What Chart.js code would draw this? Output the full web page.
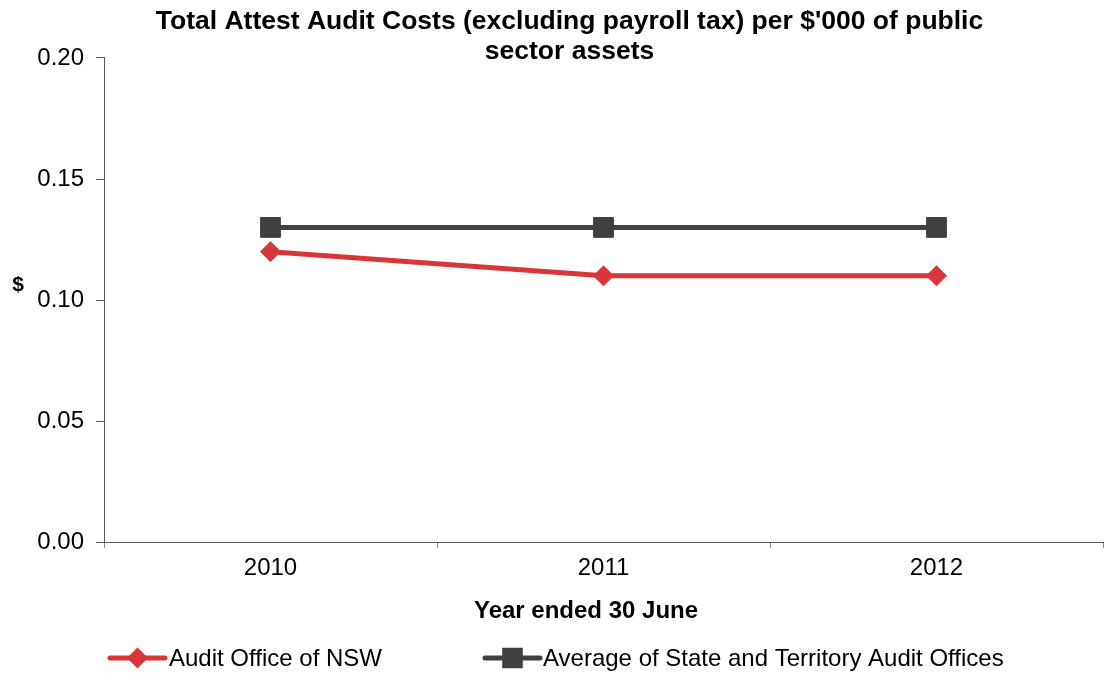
<!DOCTYPE html>
<html>
<head>
<meta charset="utf-8">
<script src="https://cdn.jsdelivr.net/npm/chart.js@4"></script>
<style>
  html, body { margin: 0; padding: 0; background: #fff; overflow: hidden; }
  #wrap { width: 1105px; height: 673px; overflow: hidden; }
  canvas { display: block; }
</style>
</head>
<body>
<div id="wrap"><canvas id="chart" width="1105" height="673"></canvas></div>
<script>
const years = ['2010', '2011', '2012'];
const nswCosts = [0.12, 0.11, 0.11];
const avgCosts = [0.13, 0.13, 0.13];
const yTicks = [0, 0.05, 0.10, 0.15, 0.20];
const seriesNames = ['Audit Office of NSW', 'Average of State and Territory Audit Offices'];
const titleLines = ["Total Attest Audit Costs (excluding payroll tax) per $'000 of public", 'sector assets'];
const xAxisTitle = 'Year ended 30 June';
const yAxisTitle = '$';

const RED = '#d9363a';
const DARK = '#404040';
const FONT = "'Liberation Sans', Arial, sans-serif";

// axis titles: "$" sits horizontally left of the y labels, x title under the years
const axisTitles = {
  id: 'axisTitles',
  afterDraw(chart) {
    const ctx = chart.ctx;
    const y = chart.scales.y;
    ctx.save();
    ctx.fillStyle = '#000';
    ctx.textAlign = 'center';
    ctx.textBaseline = 'middle';
    ctx.font = 'bold 21px ' + FONT;
    ctx.fillText(yAxisTitle, 18, y.getPixelForValue(0.106));
    ctx.font = 'bold 24px ' + FONT;
    ctx.fillText(xAxisTitle, 586, 611);
    ctx.restore();
  }
};

// bottom legend: short line with the series marker in the middle
const lineLegend = {
  id: 'lineLegend',
  afterDraw(chart) {
    const ctx = chart.ctx;
    const items = [
      { x0: 110, x1: 165, tx: 169, ds: chart.data.datasets[0], r: 7 },
      { x0: 485, x1: 540, tx: 543, ds: chart.data.datasets[1], r: 11 }
    ];
    const cy = 658;
    ctx.save();
    items.forEach(it => {
      ctx.strokeStyle = it.ds.borderColor;
      ctx.lineWidth = 5;
      ctx.lineCap = 'round';
      ctx.beginPath();
      ctx.moveTo(it.x0, cy);
      ctx.lineTo(it.x1, cy);
      ctx.stroke();
      Chart.helpers.drawPoint(ctx, {
        pointStyle: it.ds.pointStyle,
        radius: it.r,
        borderWidth: 1
      }, (it.x0 + it.x1) / 2, cy);
      ctx.fillStyle = it.ds.borderColor;
      ctx.fill();
      ctx.fillStyle = '#000';
      ctx.font = '24px ' + FONT;
      ctx.textAlign = 'left';
      ctx.textBaseline = 'middle';
      ctx.fillText(it.ds.label, it.tx, cy + 1);
    });
    ctx.restore();
  }
};

new Chart(document.getElementById('chart'), {
  type: 'line',
  data: {
    labels: years,
    datasets: [
      {
        label: seriesNames[0],
        data: nswCosts,
        borderColor: RED,
        backgroundColor: RED,
        borderWidth: 5,
        pointStyle: 'rectRot',
        pointRadius: 10,
        pointBorderWidth: 1,
        pointHoverRadius: 10,
        tension: 0
      },
      {
        label: seriesNames[1],
        data: avgCosts,
        borderColor: DARK,
        backgroundColor: DARK,
        borderWidth: 5,
        pointStyle: 'rect',
        pointRadius: 14,
        pointBorderWidth: 1,
        pointHoverRadius: 14,
        tension: 0
      }
    ]
  },
  options: {
    responsive: false,
    animation: false,
    layout: { autoPadding: false, padding: { left: 36, right: 2, top: 0, bottom: 84 } },
    plugins: {
      legend: { display: false },
      tooltip: { enabled: false },
      title: {
        display: true,
        text: titleLines,
        color: '#000',
        font: { family: FONT, size: 26.5, weight: 'bold', lineHeight: 1.15 },
        padding: { top: 6, bottom: -9 }
      }
    },
    scales: {
      x: {
        offset: true,
        afterFit(scale) { scale.paddingLeft = 0; scale.paddingRight = 0; },
        grid: {
          display: true,
          offset: true,
          drawOnChartArea: false,
          drawTicks: true,
          tickLength: 6,
          color: '#868686'
        },
        border: { display: true, color: '#595959', width: 1 },
        ticks: {
          color: '#000',
          font: { family: FONT, size: 24 },
          padding: 6
        }
      },
      y: {
        min: 0,
        max: 0.2,
        afterFit(scale) { scale.width = 68; },
        afterBuildTicks(scale) { scale.ticks = yTicks.map(v => ({ value: v })); },
        grid: {
          display: true,
          drawOnChartArea: false,
          drawTicks: true,
          tickLength: 8,
          color: '#595959'
        },
        border: { display: true, color: '#595959', width: 1 },
        ticks: {
          color: '#000',
          font: { family: FONT, size: 24 },
          padding: 12,
          callback: v => v.toFixed(2)
        }
      }
    }
  },
  plugins: [axisTitles, lineLegend]
});
</script>
</body>
</html>
